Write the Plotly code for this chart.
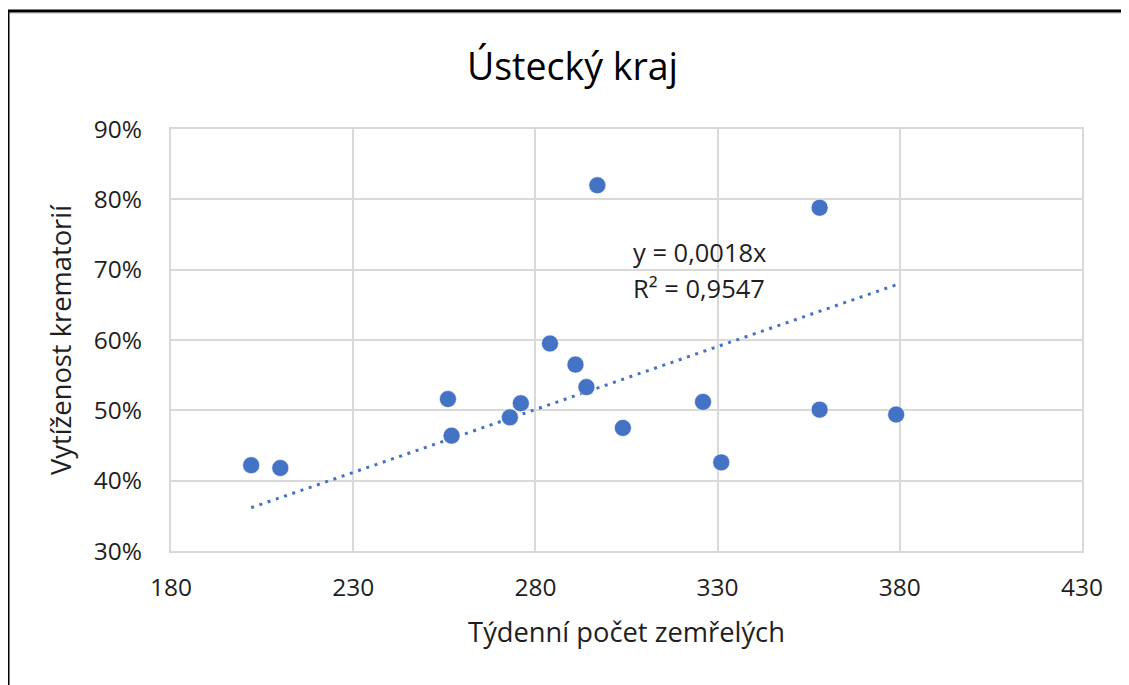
import numpy as np
import plotly.graph_objects as go

# Data
deaths = [202, 210, 256, 257, 273, 276, 284, 291, 294, 297, 304, 326, 331, 358, 358, 379]
utilization = [0.422, 0.418, 0.516, 0.464, 0.490, 0.510, 0.595, 0.565, 0.533, 0.820,
               0.475, 0.512, 0.426, 0.788, 0.501, 0.494]
x_ticks = [180, 230, 280, 330, 380, 430]
y_ticks = [0.3, 0.4, 0.5, 0.6, 0.7, 0.8, 0.9]
title_text = "Ústecký kraj"
x_title = "Týdenní počet zemřelých"
y_title = "Vytíženost krematorií"
eq_text = "y = 0,0018x"
r2_text = "R² = 0,9547"

BLUE = "#4472C4"
GRID = "#D9D9D9"
TXT = "#1F1F1F"
FONT = "Open Sans"

x = np.array(deaths, dtype=float)
y = np.array(utilization, dtype=float)
slope = float((x * y).sum() / (x * x).sum())  # linear trend through origin
tx = np.array([x.min(), x.max()])
ty = slope * tx

# Pixel layout helpers (page has an 8px body margin)
OFF = 8
W, H = 1129 - OFF, 685 - OFF
ML, MR, MT, MB = 171 - OFF, 47, 129 - OFF, 134
PW, PH = W - ML - MR, H - MT - MB


def px(xp):
    return (xp - OFF - ML) / PW


def py(yp):
    return (H - MB - (yp - OFF)) / PH


fig = go.Figure()
fig.add_trace(go.Scatter(
    x=tx, y=ty, mode="lines",
    line=dict(color=BLUE, width=3, dash="3px,5.7px"),
    hoverinfo="skip", showlegend=False,
))
fig.add_trace(go.Scatter(
    x=deaths, y=utilization, mode="markers",
    marker=dict(color=BLUE, size=17, line=dict(color="white", width=0.6)),
    showlegend=False,
))

axis_common = dict(
    showgrid=True, gridcolor=GRID, gridwidth=2,
    showline=True, linecolor=GRID, linewidth=2, mirror=True,
    zeroline=False, ticks="",
    tickfont=dict(family=FONT, size=24.5, color=TXT),
)

fig.update_layout(
    width=W, height=H,
    margin=dict(l=ML, r=MR, t=MT, b=MB),
    paper_bgcolor="white", plot_bgcolor="white",
    title=dict(text=title_text, x=(572.5 - OFF) / W, xanchor="center",
               y=1 - (67 - OFF) / H, yanchor="middle", xref="container",
               yref="container",
               font=dict(family=FONT, size=37.5, color="#000000")),
    xaxis=dict(range=[180, 430], tickvals=x_ticks, ticklabelstandoff=14,
               title=dict(text=x_title, standoff=20,
                          font=dict(family=FONT, size=27.3, color=TXT)),
               **axis_common),
    yaxis=dict(range=[0.3, 0.9], tickvals=y_ticks, tickformat=".0%",
               ticklabelstandoff=22,
               title=dict(text=y_title, standoff=14,
                          font=dict(family=FONT, size=27.3, color=TXT)),
               **axis_common),
    annotations=[
        dict(text=eq_text, xref="paper", yref="paper", x=px(631), y=py(252),
             xanchor="left", yanchor="middle", showarrow=False,
             font=dict(family=FONT, size=25.5, color=TXT)),
        dict(text=r2_text, xref="paper", yref="paper", x=px(631), y=py(288),
             xanchor="left", yanchor="middle", showarrow=False,
             font=dict(family=FONT, size=25.5, color=TXT)),
    ],
    shapes=[
        dict(type="line", xref="paper", yref="paper", x0=px(8), x1=px(8),
             y0=py(10), y1=py(700), line=dict(color="black", width=3)),
        dict(type="line", xref="paper", yref="paper", x0=px(7), x1=px(1140),
             y0=py(11), y1=py(11), line=dict(color="black", width=3)),
        dict(type="line", xref="paper", yref="paper", x0=px(10), x1=px(1140),
             y0=py(13.5), y1=py(13.5), line=dict(color=GRID, width=1)),
    ],
)

fig.write_html("out.html")
